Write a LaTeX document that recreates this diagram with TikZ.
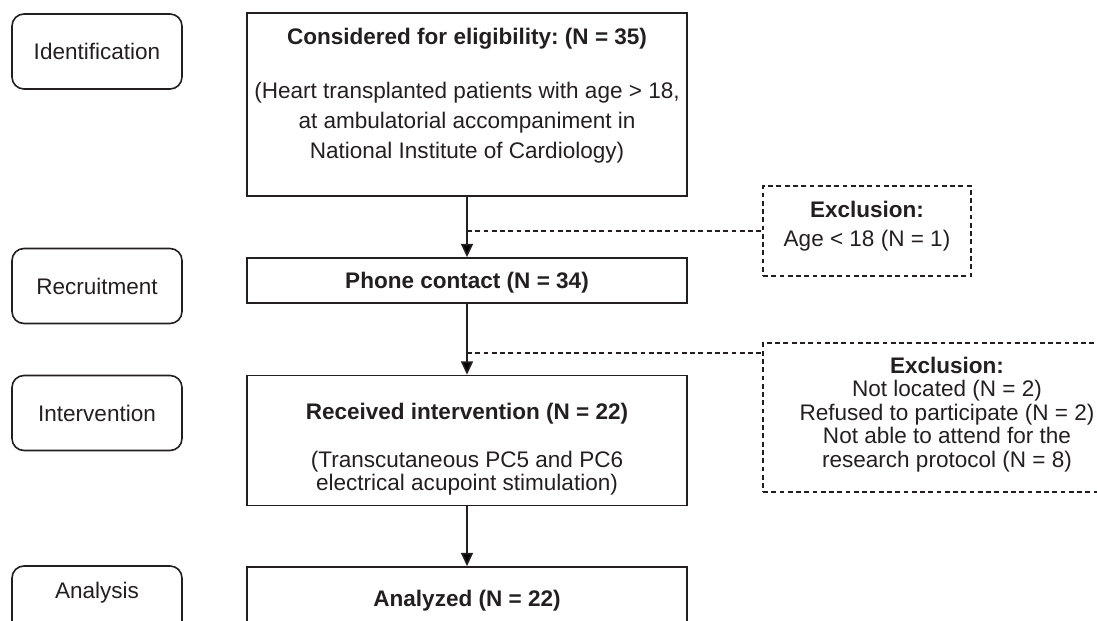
\documentclass[tikz,border=0pt]{standalone}
\usepackage{fontspec}
\setmainfont{Liberation Sans}
\usetikzlibrary{arrows.meta}
\usetikzlibrary{calc}
\usetikzlibrary{positioning}

\definecolor{ink}{RGB}{35,31,32}
\frenchspacing

\begin{document}
\begin{tikzpicture}[x=0.75pt,y=-0.75pt,
    every node/.style={text=ink,font=\fontsize{16.9}{17.6}\selectfont},
    phase/.style={draw=ink,line width=1.2pt,rounded corners=9pt,minimum width=127.5pt,minimum height=56.25pt},
    stagebox/.style={draw=ink,line width=1.3pt,minimum width=330pt},
    exclbox/.style={draw=ink,line width=0.9pt,dash pattern=on 3.6pt off 2.6pt,align=center},
    flow/.style={draw=ink,line width=1.3pt,-{Triangle[length=10pt,width=9pt]}},
    skip/.style={draw=ink,line width=0.9pt,dash pattern=on 3.6pt off 2.6pt}]

  \useasboundingbox (0,0) rectangle (1097,621);
  \clip (0,0) rectangle (1097,621);

  % phases on the left
  \node [phase] (ident) at (97,51.5) {Identification};
  \node [phase] (recruit) at (97,286) {Recruitment};
  \node [phase] (interv) at (97,413) {Intervention};
  \node [phase,minimum height=60pt] (analysis) at (97,606) {};
  \node [yshift=-20.5pt] (analysislab) at (analysis.north) {Analysis};

  % main flow
  \node [stagebox,minimum height=137.25pt] (consider) at (467,104.5) {};
  \node [align=center,font=\fontsize{16.9}{22.5}\selectfont] (considertext) at (467,95.5)
    {\textbf{Considered for eligibility: (N = 35)}\\[18pt]
     (Heart transplanted patients with age > 18,\\
     at ambulatorial accompaniment in\\
     National Institute of Cardiology)};

  \node [stagebox,minimum height=33.75pt,text depth=0pt] (phone) at (467,280.5) {\textbf{Phone contact (N = 34)}};

  \node [stagebox,minimum height=97.5pt] (received) at (467,440.5) {};
  \node [align=center,font=\fontsize{16.9}{17.25}\selectfont] (receivedtext) at (467,449)
    {\textbf{Received intervention (N = 22)}\\[18.75pt]
     (Transcutaneous PC5 and PC6\\
     electrical acupoint stimulation)};

  \node [stagebox,minimum height=60pt] (analyzed) at (467,607) {};
  \node [yshift=-26.25pt] (analyzedtext) at (analyzed.north) {\textbf{Analyzed (N = 22)}};

  % exclusions
  \node [exclbox,minimum width=156pt,minimum height=67.5pt] (excl1) at (867,231) {};
  \node [align=center,font=\fontsize{16.9}{21.75}\selectfont] (excl1text) at (867,226.5)
    {\textbf{Exclusion:}\\ Age < 18 (N = 1)};

  \node [exclbox,minimum width=276pt,minimum height=111.75pt] (excl2) at (947,417.5) {};
  \node [align=center] (excl2text) at (947,414.5)
    {\textbf{Exclusion:}\\ Not located (N = 2)\\ Refused to participate (N = 2)\\
     Not able to attend for the\\ research protocol (N = 8)};

  \path [flow]
    (consider) edge (phone)
    (phone) edge (received)
    (received) edge (analyzed);

  \coordinate (split1) at (consider.south |- excl1.west);
  \coordinate (split2) at (467,353);

  \draw [skip] (split1) -- (excl1.west);
  \draw [skip] (split2) -- (split2 -| excl2.west);

\end{tikzpicture}
\end{document}
